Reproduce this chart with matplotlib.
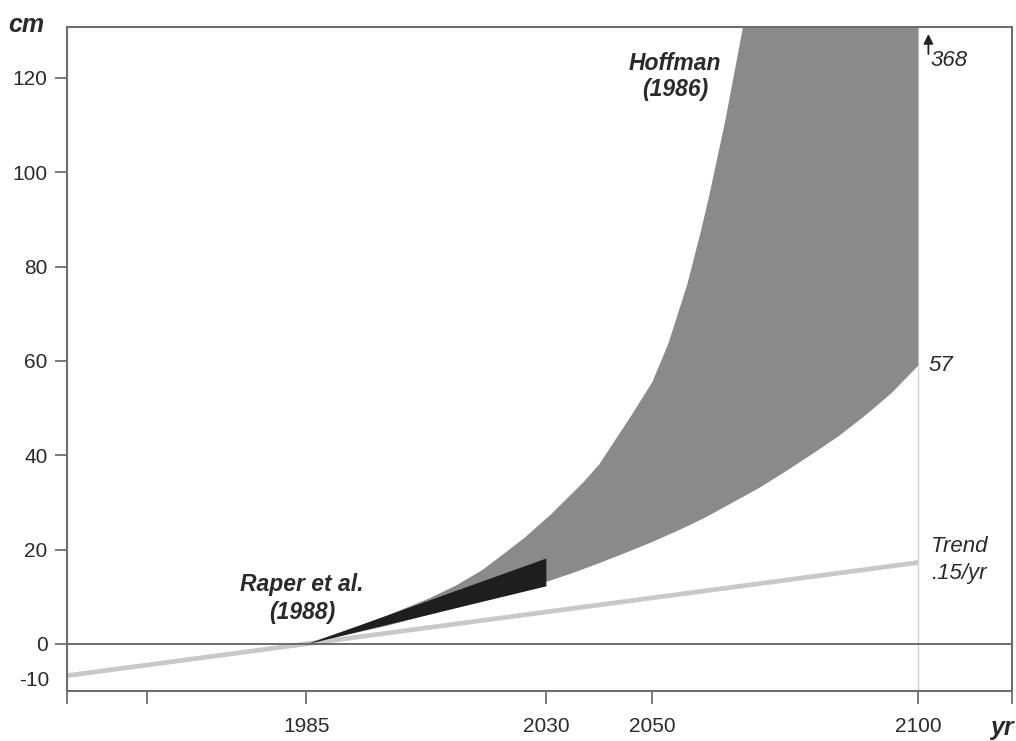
import matplotlib
matplotlib.use("Agg")
from matplotlib import pyplot as plt
from matplotlib import transforms
from matplotlib import font_manager
import numpy as np

names = set(f.name for f in font_manager.fontManager.ttflist)
narrow = 'Liberation Sans Narrow' if 'Liberation Sans Narrow' in names else 'Liberation Sans'
plt.rcParams['font.family'] = [narrow, 'Liberation Sans', 'DejaVu Sans']

# Hoffman (1986) band, cm of sea level rise
hoff_years = [1985, 1995, 2000, 2008, 2013, 2018, 2022, 2026, 2031, 2037, 2040, 2046, 2050,
              2053, 2056.6, 2059, 2060.5, 2063.7, 2067, 2070, 2080, 2090, 2100]
hoff_high = [0, 3.8, 5.9, 9.6, 12.3, 15.6, 19.0, 22.5, 27.5, 34.2, 38, 48.3, 55.5,
             63.6, 76.3, 86.9, 94, 110.8, 130.5, 148, 215, 290, 368]
low_years = [1985, 2000, 2015, 2030, 2035, 2040, 2045, 2050, 2055, 2060, 2065,
             2070, 2075, 2080, 2085, 2090, 2095, 2100]
hoff_low = [0, 3.8, 8.2, 13.1, 15.0, 17.1, 19.3, 21.6, 24.1, 26.8, 29.9,
            33.0, 36.5, 40.2, 44.0, 48.4, 53.2, 59.0]

# Raper et al. (1988)
raper_years = [1985, 2030]
raper_low = [0, 12.3]
raper_high = [0, 18.2]

# trend of .15 cm/yr
trend_years = [1940, 2100]
trend_vals = [-6.75, 17.25]

x_range = [1940, 2117.6]
y_range = [-10, 130.8]
xticks = [1940, 1955, 1985, 2030, 2050, 2100, 2117.6]
xticklabels = ['', '', '1985', '2030', '2050', '2100', '']
yticks = [0, 20, 40, 60, 80, 100, 120]

axis_color = '#6e6e6e'
text_color = '#2a2a2a'

fig = plt.figure(figsize=(10.16, 7.41), dpi=100)
ax = fig.add_axes([0.066, 0.0675, 0.93, 0.896])

ax.set_xlim(x_range)
ax.set_ylim(y_range)

# band polygon: upper edge out, lower edge back
ax.fill(list(hoff_years) + low_years[::-1], list(hoff_high) + hoff_low[::-1],
        color='#8a8a8a', linewidth=0, zorder=2)
ax.fill_between(raper_years, raper_low, raper_high, color='#1e1e1e', linewidth=0, zorder=3)
ax.plot(trend_years, trend_vals, color='#c8c8c8', linewidth=3.4, solid_capstyle='butt', zorder=1)

ax.axhline(0, color=axis_color, linewidth=1.4, zorder=4)
ax.axvline(2100, color='#d4d4d4', linewidth=1.0, zorder=1)

for s in ax.spines.values():
    s.set_color(axis_color)
    s.set_linewidth(1.5)

ax.set_xticks(xticks)
ax.set_xticklabels(xticklabels)
ax.set_yticks(yticks)
ax.set_yticklabels([str(v) for v in yticks])
ax.tick_params(axis='x', direction='out', length=9.5, width=1.3, color=axis_color,
               labelsize=15, labelcolor=text_color, pad=9)
ax.tick_params(axis='y', direction='out', length=9, width=1.3, color=axis_color,
               labelsize=15, labelcolor=text_color, pad=5)

trans = transforms.blended_transform_factory(ax.transAxes, ax.transData)
ax.text(-0.019, -7.8, '-10', transform=trans, ha='right', va='center',
        fontsize=15, color=text_color)

# axis unit labels
fig.text(0.026, 0.966, 'cm', ha='center', va='center', fontsize=18,
         style='italic', weight='bold', color=text_color)
fig.text(0.986, 0.018, 'yr', ha='center', va='center', fontsize=18,
         style='italic', weight='bold', color=text_color)

ax.text(2054.3, 120.3, 'Hoffman\n(1986)', ha='center', va='center', fontsize=16.5,
        style='italic', weight='bold', color=text_color, linespacing=1.2)
ax.text(1984.2, 9.6, 'Raper et al.\n(1988)', ha='center', va='center', fontsize=16.5,
        style='italic', weight='bold', color=text_color, linespacing=1.3)

ax.annotate('', xy=(2101.9, 129.9), xytext=(2101.9, 124.5),
            arrowprops=dict(arrowstyle='-|>', color='#222222', lw=1.3, mutation_scale=14))
ax.text(2102.3, 123.6, '368', ha='left', va='center', fontsize=16,
        style='italic', color=text_color)
ax.text(2101.9, 59, '57', ha='left', va='center', fontsize=16,
        style='italic', color=text_color)
ax.text(2102.4, 17.8, 'Trend\n.15/yr', ha='left', va='center', fontsize=16,
        style='italic', color=text_color, linespacing=1.35)

fig.savefig("out.png", dpi=100)
